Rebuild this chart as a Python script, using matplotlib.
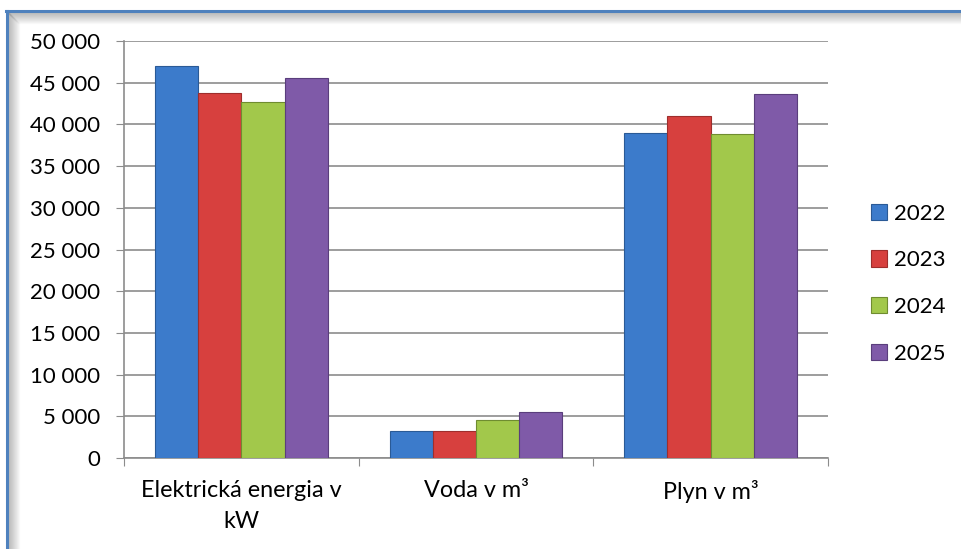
import numpy as np
import matplotlib.pyplot as plt
from matplotlib.lines import Line2D

categories = ["Elektrická energia v\nkW", "Voda v m³", "Plyn v m³"]
years = ["2022", "2023", "2024", "2025"]
v2022 = [47000, 3200, 39000]
v2023 = [43800, 3200, 41000]
v2024 = [42700, 4500, 38800]
v2025 = [45600, 5500, 43600]
series = [v2022, v2023, v2024, v2025]
colors = ["#3C7BCB", "#D7403E", "#A2C84B", "#7F5AA8"]
edges = ["#2A5A96", "#9E2E2C", "#6F8C30", "#5A3E7C"]

plt.rcParams["font.family"] = ["Lato", "DejaVu Sans"]
FS = 16

fig = plt.figure(figsize=(9.61, 5.49), dpi=100)
ax = fig.add_axes([124 / 961, 1 - 458 / 549, (828 - 124) / 961, (458 - 41) / 549])

x = np.arange(len(categories))
bw = 0.184
for i, (vals, c, ec) in enumerate(zip(series, colors, edges)):
    ax.bar(x + (i - 1.5) * bw, vals, bw, color=c, edgecolor=ec, lw=0.8,
           label=years[i], zorder=3)

ax.set_xlim(-0.5, 2.5)
ax.set_ylim(0, 50000)
ax.set_yticks(np.arange(0, 50001, 5000))
ax.set_yticklabels([f"{v:,}".replace(",", " ") for v in range(0, 50001, 5000)])
ax.yaxis.grid(True, color="#8c8c8c", lw=1.2, zorder=0)
ax.set_xticks([-0.5, 0.5, 1.5, 2.5], minor=False)
ax.set_xticklabels([])
ax.set_xticks(x, minor=True)
ax.set_xticklabels(categories, minor=True, fontsize=16.8, linespacing=1.6)
ax.tick_params(axis="x", which="minor", length=0, pad=16)
ax.tick_params(axis="x", which="major", length=6, color="#8c8c8c", direction="out")
ax.tick_params(axis="y", length=6, color="#8c8c8c", labelsize=FS, pad=11)
for s in ["top", "right"]:
    ax.spines[s].set_visible(False)
for s in ["left", "bottom"]:
    ax.spines[s].set_color("#8c8c8c")
    ax.spines[s].set_linewidth(1.2)

leg = ax.legend(loc="center left", bbox_to_anchor=(1.032, 0.418), frameon=False,
                fontsize=FS, handlelength=0.75, handleheight=0.75,
                handletextpad=0.3, labelspacing=1.2)

# blue frame with soft shadow, only top and left edges visible
for k in range(12):
    a = 0.45 * (1 - k / 12)
    fig.add_artist(Line2D([(7 + k) / 961, 1], [1 - (12 + k) / 549] * 2,
                          color="gray", alpha=a, lw=1, transform=fig.transFigure))
    fig.add_artist(Line2D([(8 + k) / 961] * 2, [0, 1 - (12 + k) / 549],
                          color="gray", alpha=a, lw=1, transform=fig.transFigure))
fig.add_artist(Line2D([6 / 961, 1], [1 - 11 / 549] * 2, color="#4F81BD", lw=2.2,
                      transform=fig.transFigure))
fig.add_artist(Line2D([7 / 961] * 2, [0, 1 - 11 / 549], color="#4F81BD", lw=2.2,
                      transform=fig.transFigure))

fig.savefig("out.png", dpi=100)
